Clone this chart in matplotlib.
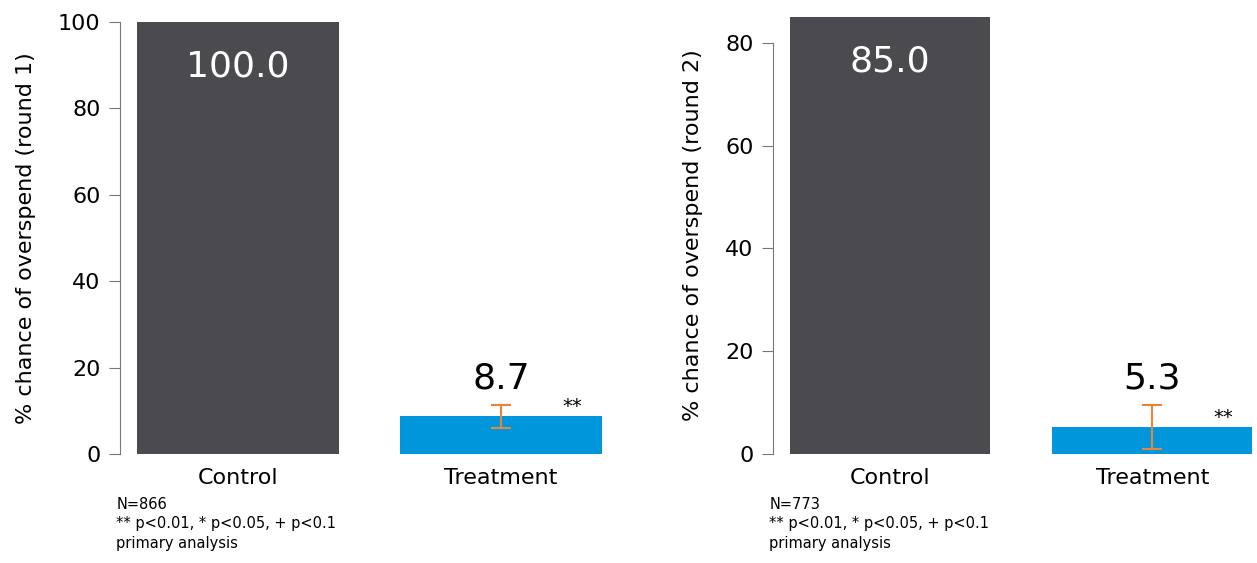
import matplotlib.pyplot as plt

# Data
groups = ['Control', 'Treatment']
round1_vals = [100.0, 8.7]
round1_err = [0, 2.7]
round2_vals = [85.0, 5.3]
round2_err = [0, 4.3]
round1_n = 866
round2_n = 773
yticks1 = [0, 20, 40, 60, 80, 100]
yticks2 = [0, 20, 40, 60, 80]

dark = '#4a4a4f'
blue = '#0096db'
orange = '#e8843c'
spine_col = '#777777'

plt.rcParams['font.family'] = ['DejaVu Sans']

fig = plt.figure(figsize=(12.57, 5.63), dpi=100)


def panel(rect, vals, errs, ymax, ticks, label, n):
    ax = fig.add_axes(rect)
    x = [0, 1]
    ax.bar(x, vals, width=0.765, color=[dark, blue])
    # error bar on treatment only
    ax.errorbar([1], [vals[1]], yerr=[errs[1]], fmt='none', ecolor=orange,
                elinewidth=1.5, capsize=7.5, capthick=1.5)
    ax.set_ylim(0, ymax)
    ax.set_xlim(-0.447, 1.4)
    ax.set_yticks(ticks)
    ax.spines['left'].set_bounds(ticks[0], ticks[-1])
    for s in ['top', 'right', 'bottom']:
        ax.spines[s].set_visible(False)
    ax.spines['left'].set_color(spine_col)
    ax.tick_params(axis='y', length=8, color=spine_col, labelsize=16, pad=6)
    ax.tick_params(axis='x', length=0, labelsize=16, pad=10)
    ax.set_xticks(x)
    ax.set_xticklabels(groups)
    ax.set_ylabel(label, fontsize=16, labelpad=16)

    ax.annotate('%.1f' % vals[0], (0, vals[0]), xytext=(0, -32),
                textcoords='offset points', ha='center', va='center',
                color='white', fontsize=26)
    ax.annotate('%.1f' % vals[1], (1, vals[1] + errs[1]), xytext=(0, 19),
                textcoords='offset points', ha='center', va='center',
                color='black', fontsize=26)
    ax.annotate('**', (1.27, vals[1]), xytext=(0, 7),
                textcoords='offset points', ha='center', va='center',
                fontsize=14)

    bx = rect[0] - 0.003
    fig.text(bx, 0.118, 'N=%d\n** p<0.01, * p<0.05, + p<0.1\nprimary analysis' % n,
             ha='left', va='top', fontsize=10.5, linespacing=1.4)
    return ax


panel([0.0955, 0.1936, 0.387, 0.7673], round1_vals, round1_err, 100, yticks1,
      '% chance of overspend (round 1)', round1_n)
panel([0.615, 0.1936, 0.385, 0.7762], round2_vals, round2_err, 85, yticks2,
      '% chance of overspend (round 2)', round2_n)

fig.savefig('out.png', dpi=100)
